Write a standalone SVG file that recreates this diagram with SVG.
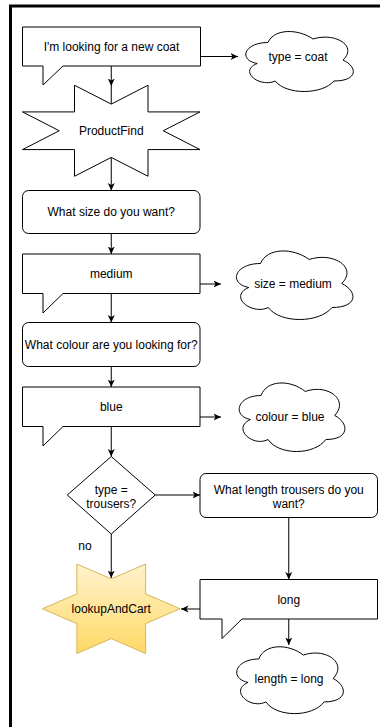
<svg xmlns="http://www.w3.org/2000/svg" width="380" height="727" viewBox="0 0 380 727">
<style>
.s{fill:#fff;stroke:#000;stroke-width:1}
.t{font-family:"Liberation Sans",Arial,Helvetica,sans-serif;font-size:12px;fill:#000;text-anchor:middle;dominant-baseline:central}
.c{fill:none;stroke:#000;stroke-width:1}
</style>
<defs>
<marker id="ah" viewBox="0 0 8 8" refX="7.5" refY="4" markerWidth="8" markerHeight="8" markerUnits="userSpaceOnUse" orient="auto">
<path d="M0,0.5 L7.5,4 L0,7.5 L2,4 Z" fill="#000"/>
</marker>
<linearGradient id="yg" x1="0" y1="0" x2="0" y2="1">
<stop offset="0" stop-color="#fff2cc"/>
<stop offset="1" stop-color="#ffd966"/>
</linearGradient>
</defs>
<rect width="380" height="727" fill="#fff"/>
<rect x="10.5" y="6" width="420" height="800" fill="none" stroke="#000" stroke-width="3"/>

<g id="connectors">
<path class="c" d="M200.5 56.5 H238" marker-end="url(#ah)"/>
<path class="c" d="M111.25 66 V86" marker-end="url(#ah)"/>
<path class="c" d="M111.25 86 V104"/>
<path class="c" d="M111.25 157.4 V190.5" marker-end="url(#ah)"/>
<path class="c" d="M111.25 233.5 V254" marker-end="url(#ah)"/>
<path class="c" d="M200 284 H221" marker-end="url(#ah)"/>
<path class="c" d="M111.25 293.5 V322.5" marker-end="url(#ah)"/>
<path class="c" d="M111.25 366.5 V387" marker-end="url(#ah)"/>
<path class="c" d="M200 417 H221" marker-end="url(#ah)"/>
<path class="c" d="M111.25 426.5 V456.5" marker-end="url(#ah)"/>
<path class="c" d="M155.25 495 H200" marker-end="url(#ah)"/>
<path class="c" d="M111.25 534 V578" marker-end="url(#ah)"/>
<path class="c" d="M288.75 517.5 V579.5" marker-end="url(#ah)"/>
<path class="c" d="M200 609 H181" marker-end="url(#ah)"/>
<path class="c" d="M288.75 619 V645" marker-end="url(#ah)"/>
<text class="t" x="85" y="546">no</text>
</g>

<g id="say-coat">
<path class="s" d="M22.5 27 H200.5 V66 H63 L43 85 V66 H22.5 Z"/>
<text class="t" x="111.5" y="46.5">I'm looking for a new coat</text>
</g>
<g id="cloud-type" transform="translate(238,25)">
<path class="s" d="M30 17.5 C6 17.5 0 35 19.2 38.5 C0 46.2 21.6 63 37.2 56 C48 70 84 70 96 56 C120 56 120 42 105 35 C120 21 97.2 7 75 14 C60 3.5 36 3.5 30 17.5 Z"/>
<text class="t" x="60" y="32">type = coat</text>
</g>
<g id="productfind">
<polygon class="s" points="163.25,130.75 200,149.59 147.99,149.59 147.99,176.25 111.25,157.41 74.51,176.25 74.51,149.59 22.5,149.59 59.25,130.75 22.5,111.91 74.51,111.91 74.51,85.25 111.25,104.09 147.99,85.25 147.99,111.91 200,111.91"/>
<text class="t" x="111.25" y="131">ProductFind</text>
</g>
<g id="ask-size">
<rect class="s" x="22.5" y="190.5" width="177.5" height="43" rx="6"/>
<text class="t" x="111.25" y="212">What size do you want?</text>
</g>
<g id="say-medium">
<path class="s" d="M22.5 254 H200 V293.5 H63 L43 313 V293.5 H22.5 Z"/>
<text class="t" x="111.25" y="274">medium</text>
</g>
<g id="cloud-size" transform="translate(228,243.5)">
<path class="s" d="M32.5 20 C6.5 20 0 40 20.8 44 C0 52.8 23.4 72 40.3 64 C52 80 91 80 104 64 C130 64 130 48 113.75 40 C130 24 105.3 8 81.25 16 C65 4 39 4 32.5 20 Z"/>
<text class="t" x="65" y="40.5">size = medium</text>
</g>
<g id="ask-colour">
<rect class="s" x="22.5" y="322.5" width="177.5" height="44" rx="6"/>
<text class="t" x="111.25" y="344.5">What colour are you looking for?</text>
</g>
<g id="say-blue">
<path class="s" d="M22.5 387 H200 V426.5 H63 L43 446 V426.5 H22.5 Z"/>
<text class="t" x="111.25" y="407">blue</text>
</g>
<g id="cloud-colour" transform="translate(231.5,375.5)">
<path class="s" d="M29.5 20 C5.9 20 0 40 18.88 44 C0 52.8 21.24 72 36.58 64 C47.2 80 82.6 80 94.4 64 C118 64 118 48 103.25 40 C118 24 95.58 8 73.75 16 C59 4 35.4 4 29.5 20 Z"/>
<text class="t" x="58.5" y="41.5">colour = blue</text>
</g>
<g id="decision-trousers">
<polygon class="s" points="111.25,456.5 155.25,495 111.25,534 67.25,495"/>
<text class="t" x="111.25" y="489.5">type =</text>
<text class="t" x="111.25" y="503.5">trousers?</text>
</g>
<g id="ask-length">
<rect class="s" x="200" y="473.5" width="177.5" height="44" rx="6"/>
<text class="t" x="288.75" y="489.5">What length trousers do you</text>
<text class="t" x="288.75" y="503.5">want?</text>
</g>
<g id="lookupandcart">
<polygon points="180,608.75 145.62,623.67 145.63,653.5 111.25,638.58 76.88,653.5 76.88,623.67 42.5,608.75 76.88,593.83 76.88,564 111.25,578.92 145.63,564 145.62,593.83" fill="url(#yg)" stroke="#d6b656" stroke-width="1"/>
<text class="t" x="111.25" y="609">lookupAndCart</text>
</g>
<g id="say-long">
<path class="s" d="M200 579.5 H377.5 V619 H242 L222 638.5 V619 H200 Z"/>
<text class="t" x="288.75" y="600">long</text>
</g>
<g id="cloud-length" transform="translate(229,639.5)">
<path class="s" d="M29.75 19.5 C5.95 19.5 0 39 19.04 42.9 C0 51.48 21.42 70.2 36.89 62.4 C47.6 78 83.3 78 95.2 62.4 C119 62.4 119 46.8 104.125 39 C119 23.4 96.39 7.8 74.375 15.6 C59.5 3.9 35.7 3.9 29.75 19.5 Z"/>
<text class="t" x="60" y="39">length = long</text>
</g>
</svg>
